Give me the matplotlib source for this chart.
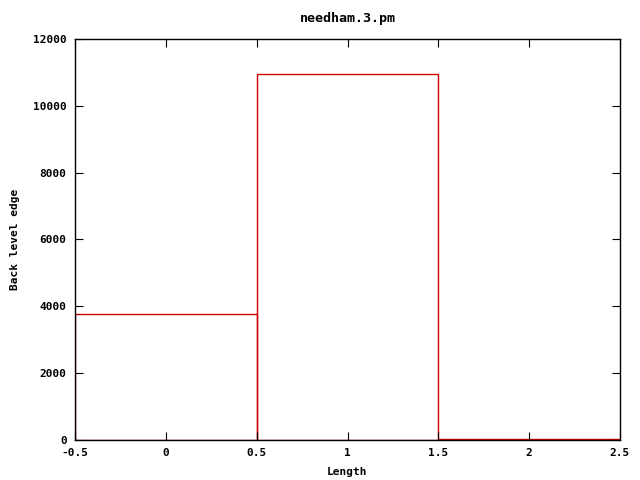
import matplotlib
matplotlib.use("Agg")
import matplotlib.pyplot as plt

# Data
positions = [0, 1, 2]
counts = [3770, 10940, 20]
xticks = [-0.5, 0, 0.5, 1, 1.5, 2, 2.5]
xticklabels = ["-0.5", "0", "0.5", "1", "1.5", "2", "2.5"]
yticks = [0, 2000, 4000, 6000, 8000, 10000, 12000]

plt.rcParams["font.family"] = "DejaVu Sans Mono"
plt.rcParams["font.weight"] = "bold"
plt.rcParams["font.size"] = 8

fig = plt.figure(figsize=(6.4, 4.8), dpi=100)
ax = fig.add_axes([75 / 640, 40 / 480, 545 / 640, 401 / 480])

ax.bar(positions, counts, width=1.0, fill=False, edgecolor="#cc0000", linewidth=1.0)

ax.set_xlim(-0.5, 2.5)
ax.set_ylim(0, 12000)
ax.set_xticks(xticks)
ax.set_xticklabels(xticklabels)
ax.set_yticks(yticks)
ax.tick_params(direction="in", top=True, right=True, length=6, width=0.8, pad=6)
for s in ax.spines.values():
    s.set_linewidth(1.0)

ax.set_xlabel("Length", fontweight="bold", labelpad=6)
ax.set_ylabel("Back level edge", fontweight="bold", labelpad=9)
ax.set_title("needham.3.pm", fontweight="bold", pad=12)

plt.savefig("out.png", dpi=100)
